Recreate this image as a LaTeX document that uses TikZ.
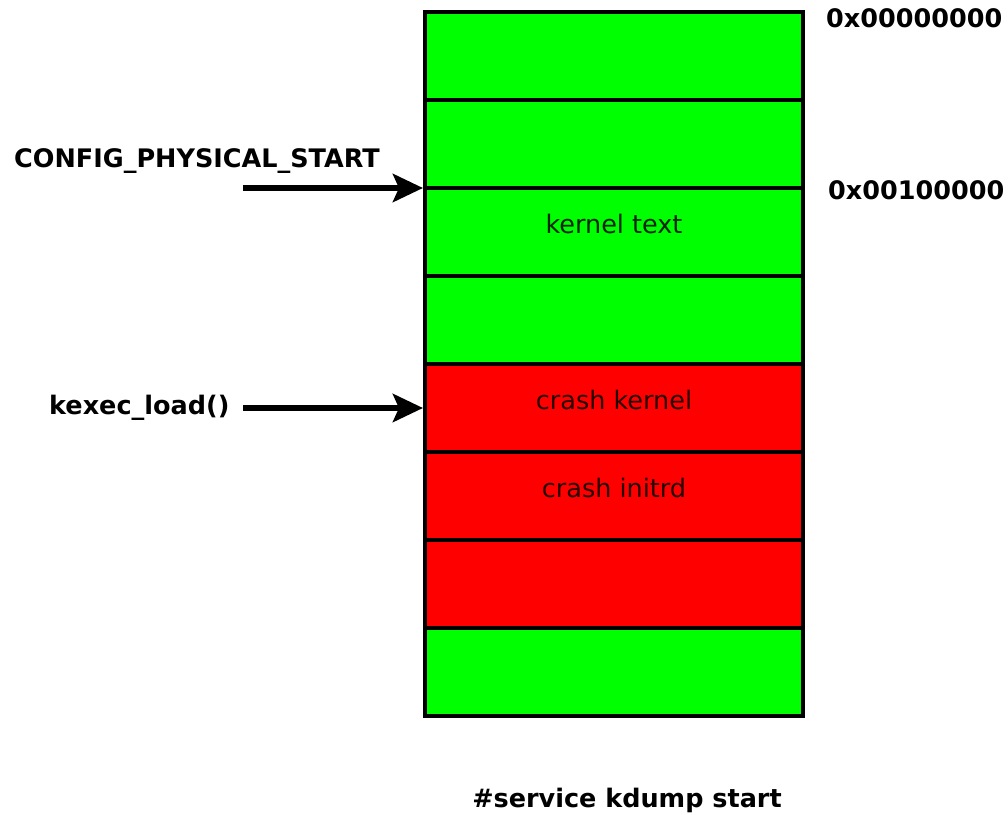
\documentclass[tikz,border=0pt]{standalone}
\usepackage{fontspec}
\setmainfont{DejaVu Sans}
\usetikzlibrary{arrows.meta}
\definecolor{memgreen}{RGB}{0,255,0}
\definecolor{memred}{RGB}{255,0,0}
\begin{document}
\begin{tikzpicture}[x=1pt,y=-1pt,
  cell/.style={draw=black,line width=3.4pt,minimum width=378pt,minimum height=88pt,inner sep=0pt,anchor=north west,outer sep=0pt},
  gcell/.style={cell,fill=memgreen},
  rcell/.style={cell,fill=memred},
  celltext/.style={font=\fontsize{25.5}{28}\selectfont,text=black,text opacity=0.85,inner sep=0pt},
  lbl/.style={font=\fontsize{25.5}{28}\selectfont\bfseries,inner sep=0pt},
  ptr/.style={line width=6pt,-{Stealth[length=30pt,width=28pt,inset=6pt]}}]
\useasboundingbox (0,0) rectangle (1008,814);
\node[gcell] (c1) at (425,12) {};
\node[gcell] (c2) at (425,100) {};
\node[gcell] (c3) at (425,188) {};
\node[gcell] (c4) at (425,276) {};
\node[rcell] (c5) at (425,364) {};
\node[rcell] (c6) at (425,452) {};
\node[rcell] (c7) at (425,540) {};
\node[gcell] (c8) at (425,628) {};
\node[celltext] (t3) at ([yshift=8pt]c3.center) {kernel text};
\node[celltext] (t5) at ([yshift=8pt]c5.center) {crash kernel};
\node[celltext] (t6) at ([yshift=8pt]c6.center) {crash initrd};
\node[lbl,anchor=west] (a0) at (826,18) {0x00000000};
\node[lbl,anchor=west] (a1) at (828,190) {0x00100000};
\node[lbl,anchor=west] (lcfg) at (14,161) {CONFIG\_PHYSICAL\_START};
\node[lbl,anchor=west] (lkx) at (49,408) {kexec\_load()};
\node[lbl] (svc) at (627,800) {\#service kdump start};
\coordinate (s1) at (243,188);
\coordinate (s2) at (243,408);
\draw[ptr] (s1) -- ([xshift=-2pt]c3.north west);
\draw[ptr] (s2) -- ([xshift=-2pt]c5.west |- s2);
\end{tikzpicture}
\end{document}
